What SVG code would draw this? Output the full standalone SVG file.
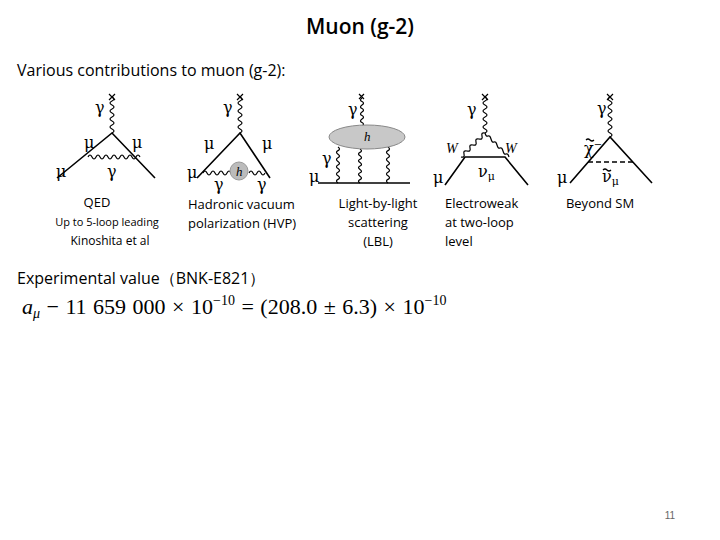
<svg xmlns="http://www.w3.org/2000/svg" width="720" height="540" viewBox="0 0 720 540">
<style>
.t{font-family:"Open Sans","Liberation Sans",sans-serif;fill:#000}
.g{font-family:"DejaVu Serif","Liberation Serif",serif;fill:#000;font-size:16px}
.l{stroke:#000;stroke-width:1.6;fill:none}
.w{stroke:#000;stroke-width:1.2;fill:none}
</style>
<rect width="720" height="540" fill="#fff"/>
<text class="t" x="360" y="34" font-size="21" text-anchor="middle" font-weight="600">Muon (g-2)</text>
<text class="t" x="17" y="76" font-size="16">Various contributions to muon (g-2):</text>
<g id="qed">
<path class="l" d="M57,178 L112,133 L155,178"/>
<path class="w" d="M112,133 q4,-2 0,-4 t0,-4 t0,-4 t0,-4 t0,-4 t0,-4 t0,-4 t0,-4 t0,-4"/>
<path class="w" d="M109,94 l6,6 M115,94 l-6,6"/>
<path class="w" d="M88,157 q2,-4 4,0 t4,0 t4,0 t4,0 t4,0 t4,0 t4,0 t4,0 t4,0 t4,0 t4,0 t4,0 t4,0"/>
<text class="g" x="95" y="113">γ</text><text class="g" x="84" y="148">μ</text><text class="g" x="132" y="148">μ</text><text class="g" x="56" y="177">μ</text><text class="g" x="107" y="177">γ</text>
<text class="t" x="97" y="207" font-size="13" text-anchor="middle">QED</text>
<text class="t" x="107" y="226" font-size="11" text-anchor="middle">Up to 5-loop leading</text>
<text class="t" x="110" y="245" font-size="12" text-anchor="middle">Kinoshita et al</text>
</g>
<g id="hvp">
<path class="l" d="M197,178 L240,133 L270,178"/>
<path class="w" d="M240,133 q4,-2 0,-4 t0,-4 t0,-4 t0,-4 t0,-4 t0,-4 t0,-4 t0,-4 t0,-4"/>
<path class="w" d="M237,94 l6,6 M243,94 l-6,6"/>
<path class="w" d="M203,173 q2,-4 4,0 t4,0 t4,0 t4,0 t4,0 t4,0 t4,0 M249,173 q2,-4 4,0 t4,0 t4,0 t4,0"/>
<circle cx="239" cy="171" r="9" fill="#bbb" stroke="#999"/>
<text x="236" y="176" font-family="Liberation Serif" font-style="italic" font-size="13">h</text>
<text class="g" x="223" y="113">γ</text><text class="g" x="204" y="149">μ</text><text class="g" x="262" y="149">μ</text><text class="g" x="187" y="178">μ</text><text class="g" x="214" y="190" font-size="14">γ</text><text class="g" x="257" y="190" font-size="14">γ</text>
<text class="t" x="188" y="209" font-size="13">Hadronic vacuum</text>
<text class="t" x="188" y="228" font-size="13">polarization (HVP)</text>
</g>
<g id="lbl">
<path class="l" d="M318,183 L410,183"/>
<path class="w" d="M362,126 q3,-2 0,-3.5 t0,-3.5 t0,-3.5 t0,-3.5 t0,-3.5 t0,-3.5 t0,-3.5 t0,-3.5"/>
<path class="w" d="M359,94 l5,5 M364,94 l-5,5"/>
<path class="w" d="M338,147 q3,2 0,3.6 t0,3.6 t0,3.6 t0,3.6 t0,3.6 t0,3.6 t0,3.6 t0,3.6 t0,3.6 t0,3.6"/>
<path class="w" d="M360,149 q3,2 0,3.4 t0,3.4 t0,3.4 t0,3.4 t0,3.4 t0,3.4 t0,3.4 t0,3.4 t0,3.4 t0,3.4"/>
<path class="w" d="M388,147 q3,2 0,3.6 t0,3.6 t0,3.6 t0,3.6 t0,3.6 t0,3.6 t0,3.6 t0,3.6 t0,3.6 t0,3.6"/>
<ellipse cx="367" cy="137" rx="38" ry="12" fill="#c8c8c8" stroke="#888"/>
<text x="364" y="141" font-family="Liberation Serif" font-style="italic" font-size="13">h</text>
<text class="g" x="348" y="115" font-size="13">γ</text><text class="g" x="322" y="164" font-size="13">γ</text><text class="g" x="309" y="182" font-size="11">μ</text>
<text class="t" x="378" y="208" font-size="13" text-anchor="middle">Light-by-light</text>
<text class="t" x="378" y="227" font-size="13" text-anchor="middle">scattering</text>
<text class="t" x="378" y="246" font-size="13" text-anchor="middle">(LBL)</text>
</g>
<g id="ew">
<path class="l" d="M445,185 L465,157 L505,157 L528,185"/>
<path class="w" d="M485,133 q4,-2 0,-4 t0,-4 t0,-4 t0,-4 t0,-4 t0,-4 t0,-4 t0,-4 t0,-4"/>
<path class="w" d="M482,94 l6,6 M488,94 l-6,6"/>
<path class="w" d="M485,133 q-4,-1 -3,3 t-3,3 t-3,3 t-3,3 t-3,3 t-3,3 t-3,3 t-3,3"/>
<path class="w" d="M485,133 q1,4 3,3 t3,3 t3,3 t3,3 t3,3 t3,3 t3,3 t3,3"/>
<text x="446" y="153" font-family="Liberation Serif" font-style="italic" font-size="14">W</text>
<text x="505" y="153" font-family="Liberation Serif" font-style="italic" font-size="14">W</text>
<text class="g" x="467" y="115">γ</text><text class="g" x="478" y="177">ν<tspan font-size="11" dy="3">μ</tspan></text><text class="g" x="433" y="183">μ</text>
<text class="t" x="445" y="208" font-size="13">Electroweak</text>
<text class="t" x="445" y="227" font-size="13">at two-loop</text>
<text class="t" x="445" y="246" font-size="13">level</text>
</g>
<g id="bsm">
<path class="l" d="M570,183 L610,137 L652,183"/>
<path class="l" d="M588,162 L633,162" stroke-dasharray="5,3"/>
<path class="w" d="M610,137 q4,-2 0,-4 t0,-4 t0,-4 t0,-4 t0,-4 t0,-4 t0,-4 t0,-4 t0,-4 t0,-4"/>
<path class="w" d="M607,94 l6,6 M613,94 l-6,6"/>
<text class="g" x="597" y="114">γ</text>
<text class="g" x="584" y="154">χ<tspan font-size="10" dy="-6">−</tspan></text>
<path class="w" d="M586,140 q2,-2 4,0 t4,0" stroke-width="1"/>
<text class="g" x="602" y="182">ν<tspan font-size="11" dy="3">μ</tspan></text>
<path class="w" d="M603,170 q2,-2 4,0 t4,0" stroke-width="1"/>
<text class="g" x="557" y="183">μ</text>
<text class="t" x="600" y="208" font-size="13" text-anchor="middle">Beyond SM</text>
</g>
<text class="t" x="17" y="284" font-size="16">Experimental value（BNK-E821）</text>
<text x="22" y="314" font-family="Liberation Serif" font-size="22" word-spacing="1"><tspan font-style="italic">a</tspan><tspan font-style="italic" font-size="14" dy="4">μ</tspan><tspan dy="-4"> − 11 659 000 × 10</tspan><tspan font-size="14" dy="-9">−10</tspan><tspan dy="9"> = (208.0 ± 6.3) × 10</tspan><tspan font-size="14" dy="-9">−10</tspan></text>
<text x="670" y="519" font-family="Liberation Sans" font-size="10" fill="#666" text-anchor="middle">11</text>
</svg>
